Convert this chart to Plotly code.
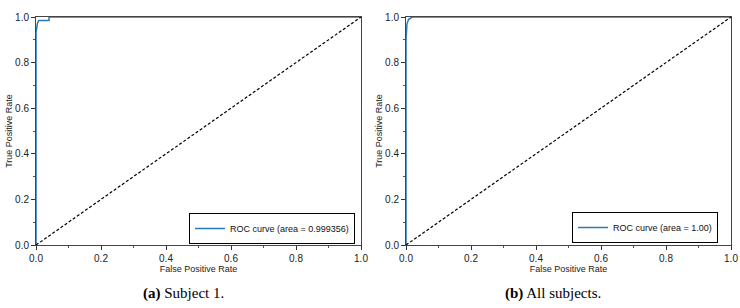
import plotly.graph_objects as go

# Data
fpr_a = [0.0, 0.0, 0.004, 0.008, 0.04, 0.04, 1.0]
tpr_a = [0.0, 0.93, 0.97, 0.985, 0.985, 1.0, 1.0]
fpr_b = [0.0, 0.0, 0.003, 0.008, 0.02, 1.0]
tpr_b = [0.0, 0.90, 0.97, 0.99, 1.0, 1.0]
diag = [0.0, 1.0]
label_a = "ROC curve (area = 0.999356)"
label_b = "ROC curve (area = 1.00)"
tick_vals = [0.0, 0.2, 0.4, 0.6, 0.8, 1.0]
tick_text = ["0.0", "0.2", "0.4", "0.6", "0.8", "1.0"]
captions = ["<b>(a)</b> Subject 1.", "<b>(b)</b> All subjects."]

W, H = 740, 308


def px(x):
    return x / W


def py(y):
    return 1 - y / H


blue = "#2a7ab8"
fig = go.Figure()

fig.add_trace(go.Scatter(x=fpr_a, y=tpr_a, mode="lines", line=dict(color=blue, width=1.5),
                         name=label_a, xaxis="x", yaxis="y", legend="legend"))
fig.add_trace(go.Scatter(x=diag, y=diag, mode="lines", line=dict(color="black", width=1.2, dash="3px,2px"),
                         showlegend=False, xaxis="x", yaxis="y"))
fig.add_trace(go.Scatter(x=fpr_b, y=tpr_b, mode="lines", line=dict(color=blue, width=1.5),
                         name=label_b, xaxis="x2", yaxis="y2", legend="legend2"))
fig.add_trace(go.Scatter(x=diag, y=diag, mode="lines", line=dict(color="black", width=1.2, dash="3px,2px"),
                         showlegend=False, xaxis="x2", yaxis="y2"))

ydom = [py(245), py(17)]
xdoms = [[px(36), px(361)], [px(406), px(731)]]

axis_common = dict(range=[0, 1], tickvals=tick_vals, ticktext=tick_text, ticks="outside",
                   ticklen=4, tickwidth=1, tickcolor="#333", showline=True, linecolor="#444",
                   linewidth=1, mirror=True, showgrid=False, zeroline=False, automargin=False,
                   ticklabeloverflow="allow",
                   tickfont=dict(family="Liberation Sans, Arial", size=10, color="#222"),
                   minor=dict(ticks="outside", ticklen=2, dtick=0.1, tickcolor="#555", showgrid=False))

layout = dict(width=W, height=H, margin=dict(l=0, r=0, t=0, b=0, autoexpand=False),
              plot_bgcolor="white", paper_bgcolor="white")
for i, xd in enumerate(xdoms):
    sx = "" if i == 0 else "2"
    layout["xaxis" + sx] = dict(axis_common, domain=xd, anchor="y" + sx,
                                title=dict(text="False Positive Rate", standoff=0,
                                           font=dict(family="Liberation Sans, Arial", size=9, color="#222")))
    layout["yaxis" + sx] = dict(axis_common, domain=ydom, anchor="x" + sx,
                                title=dict(text="True Positive Rate", standoff=0,
                                           font=dict(family="Liberation Sans, Arial", size=9, color="#222")))

leg_common = dict(bgcolor="white", bordercolor="black", borderwidth=1,
                  font=dict(family="Liberation Sans, Arial", size=9, color="#111"),
                  xanchor="right", yanchor="bottom", itemwidth=30, tracegroupgap=0)
layout["legend"] = dict(leg_common, x=px(355), y=py(244))
layout["legend2"] = dict(leg_common, x=px(718), y=py(243))

fig.update_layout(**layout)

for cap, xc in zip(captions, [183, 553]):
    fig.add_annotation(text=cap, x=px(xc), y=py(293), xref="paper", yref="paper",
                       showarrow=False, xanchor="center", yanchor="middle",
                       font=dict(family="Liberation Serif, Times New Roman", size=15, color="black"))

fig.write_html("out.html", config={"displayModeBar": False},
               post_script="document.body.style.margin='0';document.body.style.overflow='hidden';")
